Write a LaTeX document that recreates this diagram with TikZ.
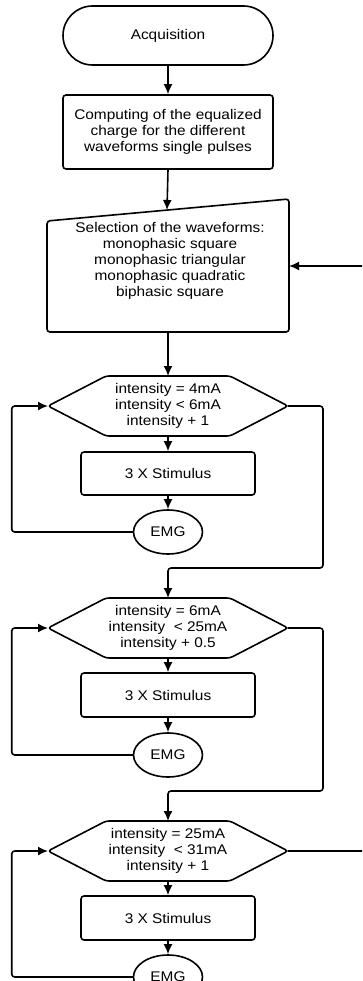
\documentclass[tikz,border=0pt]{standalone}
\usepackage{fontspec}
\setmainfont{Liberation Sans}[FakeStretch=1.1]
\usetikzlibrary{arrows.meta,shapes.misc,shapes.geometric}

\tikzset{
    every node/.style={font=\fontsize{14}{16}\selectfont, align=center},
    flow/.style={rounded corners=3pt, -{Latex[length=10pt,width=9pt]}},
    wire/.style={rounded corners=3pt},
    termbox/.style={draw, rounded rectangle, minimum width=210pt, minimum height=59pt, inner sep=0pt},
    procbox/.style={draw, rounded corners=3pt, inner sep=0pt},
    hexbox/.style={minimum width=240pt, minimum height=60pt, inner sep=0pt, outer sep=0pt},
    emgbox/.style={draw, ellipse, minimum width=69pt, minimum height=44pt, inner sep=0pt}
}

\newcommand{\hexframe}[1]{%
    \draw[wire] (#1.west) -- ([xshift=58pt]#1.north west) -- ([xshift=-58pt]#1.north east)
        -- (#1.east) -- ([xshift=-58pt]#1.south east) -- ([xshift=58pt]#1.south west) -- cycle;}

\begin{document}
\begin{tikzpicture}[line cap=round, line join=round, line width=1.6pt, x=1pt, y=-1pt]

                \useasboundingbox (0,0) rectangle (362,981);
                \clip (0,0) rectangle (362,981);

                \node[termbox] (acq) at (168,35.5) {Acquisition};
                \node[procbox, minimum width=210pt, minimum height=74pt] (charge) at (168,132)
                    {Computing of the equalized\\charge for the different\\waveforms single pulses};

                \node (select) at (170,261) {Selection of the waveforms:\\monophasic square\\monophasic triangular\\monophasic quadratic\\biphasic square};
                \draw[wire] (47,221) -- (289,199) -- (289,332) -- (47,332) -- cycle;
                \coordinate (seltop) at (167,210);
                \coordinate (selright) at (289,266);
                \coordinate (selbot) at (168,332);
                \coordinate (feedback) at (362,266);

                \node[hexbox] (hexa) at (168,406) {intensity = 4mA\\intensity {\textless} 6mA\\intensity + 1};
                \hexframe{hexa}
                \node[procbox, minimum width=174pt, minimum height=43pt] (stima) at (168,473.5) {3 X Stimulus};
                \node[emgbox] (emga) at (168,532) {EMG};

                \node[hexbox] (hexb) at (168,628) {intensity = 6mA\\intensity \ {\textless} 25mA\\intensity + 0.5};
                \hexframe{hexb}
                \node[procbox, minimum width=174pt, minimum height=44pt] (stimb) at (168,695) {3 X Stimulus};
                \node[emgbox] (emgb) at (168,755) {EMG};

                \node[hexbox] (hexc) at (168,851) {intensity = 25mA\\intensity \ {\textless} 31mA\\intensity + 1};
                \hexframe{hexc}
                \node[procbox, minimum width=174pt, minimum height=44pt] (stimc) at (168,918) {3 X Stimulus};
                \node[emgbox] (emgc) at (168,977) {EMG};

                \draw[flow] (acq) -- (charge);
                \draw[flow] (charge.south) -- (seltop);
                \draw[flow] (feedback) -- (selright);
                \draw[flow] (selbot) -- (hexa.north);

                \draw[flow] (hexa) -- (stima);
                \draw[flow] (stima) -- (emga);
                \draw[flow] (emga.west) -- ++(-121,0) |- (hexa.west);
                \draw[flow] (hexa.east) -- ++(35,0) |- ([yshift=30pt]hexb.north) -- (hexb.north);

                \draw[flow] (hexb) -- (stimb);
                \draw[flow] (stimb) -- (emgb);
                \draw[flow] (emgb.west) -- ++(-121,0) |- (hexb.west);
                \draw[flow] (hexb.east) -- ++(35,0) |- ([yshift=30pt]hexc.north) -- (hexc.north);

                \draw[flow] (hexc) -- (stimc);
                \draw[flow] (stimc) -- (emgc);
                \draw[flow] (emgc.west) -- ++(-121,0) |- (hexc.west);
                \draw[wire] (hexc.east) -- ++(75,0);

\end{tikzpicture}
\end{document}
